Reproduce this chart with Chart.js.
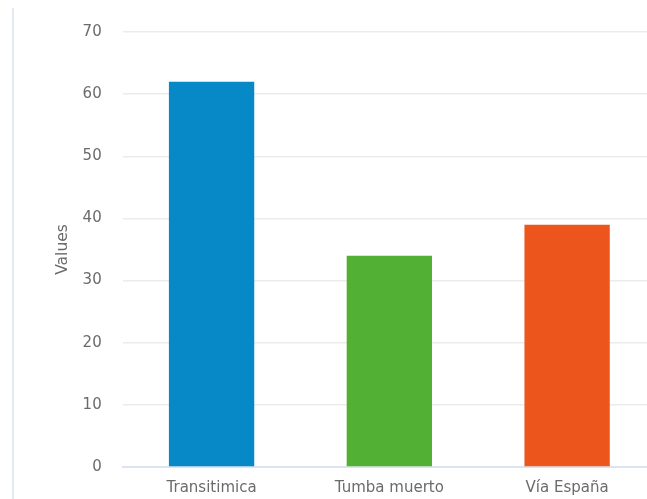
<!DOCTYPE html>
<html>
<head>
<meta charset="utf-8">
<script src="https://cdn.jsdelivr.net/npm/chart.js@4/dist/chart.umd.min.js"></script>
<style>
  html, body { margin: 0; padding: 0; background: #fff; overflow: hidden; }
  #frame {
    position: absolute; left: 12px; top: 8px; width: 2px; height: 500px;
    background: #e4e9f1;
  }
  #wrap { position: absolute; left: 0; top: 0; width: 660px; height: 499px; }
</style>
</head>
<body>
<div id="frame"></div>
<div id="wrap"><canvas id="barChart"></canvas></div>
<script>
const categories = ["Transitimica", "Tumba muerto", "Vía España"];
const values = [62, 34, 39];
const barColors = ["#0689c6", "#52b035", "#ec561c"];
const yTicks = [0, 10, 20, 30, 40, 50, 60, 70];

const ctx = document.getElementById("barChart");

const barChart = new Chart(ctx, {
  type: "bar",
  data: {
    labels: categories,
    datasets: [{
      label: "Values",
      data: values,
      backgroundColor: barColors,
      borderWidth: 0,
      barPercentage: 0.6,
      categoryPercentage: 0.8
    }]
  },
  options: {
    responsive: true,
    maintainAspectRatio: false,
    animation: false,
    layout: {
      padding: { left: 48, top: 32, right: 4, bottom: 0 }
    },
    plugins: {
      legend: { display: false },
      tooltip: { enabled: false }
    },
    scales: {
      x: {
        grid: { display: false, drawTicks: true, tickLength: 10 },
        border: { color: "#dbe4f0", width: 2 },
        ticks: {
          color: "#6b6b6b",
          padding: 2,
          font: { family: "DejaVu Sans", size: 15 }
        }
      },
      y: {
        min: 0,
        max: 70,
        afterBuildTicks: scale => {
          scale.ticks = yTicks.map(v => ({ value: v }));
        },
        grid: { color: "#ececec", lineWidth: 1.5, drawTicks: true, tickLength: 11, tickColor: "rgba(0,0,0,0)" },
        border: { display: false },
        title: {
          display: true,
          text: "Values",
          color: "#6b6b6b",
          padding: { top: 6, bottom: 0 },
          font: { family: "DejaVu Sans", size: 15.5 }
        },
        ticks: {
          color: "#6b6b6b",
          padding: 10,
          font: { family: "DejaVu Sans", size: 15 }
        }
      }
    }
  }
});
</script>
</body>
</html>
